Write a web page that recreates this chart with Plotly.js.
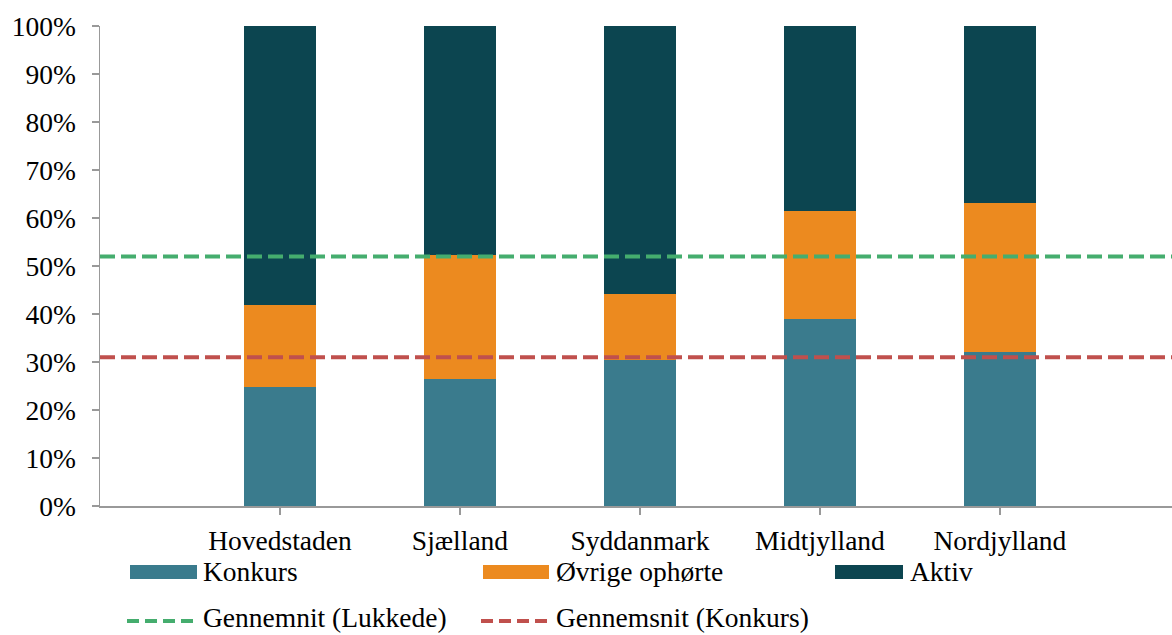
<!DOCTYPE html>
<html><head><meta charset="utf-8">
<script src="https://cdn.plot.ly/plotly-3.0.1.min.js"></script>
<style>html,body{margin:0;padding:0;background:#fff;}#chart{width:1172px;height:635px;}</style>
</head><body><div id="chart"></div>
<script>
const categories = ["Hovedstaden", "Sjælland", "Syddanmark", "Midtjylland", "Nordjylland"];
const konkurs = [24.7, 26.5, 30.4, 38.9, 32.1];
const ovrige = [17.2, 25.8, 13.7, 22.6, 31.0];
const aktiv = [58.1, 47.7, 55.9, 38.5, 36.9];
const gnsLukkede = 52;
const gnsKonkurs = 31;
const seriesNames = ["Konkurs", "Øvrige ophørte", "Aktiv", "Gennemnit (Lukkede)", "Gennemsnit (Konkurs)"];
const colors = ["#3a7b8d", "#ec8a1f", "#0c4550", "#45ad6e", "#c0504d"];

const xPos = categories.map((c, i) => i);
const xRange = [-1, 4.956];
const FONT = "Liberation Serif, Cambria, serif";
const FS = 27.5;

const bar = (y, i) => ({type: "bar", x: xPos, y: y, name: seriesNames[i], width: 0.4,
  marker: {color: colors[i], line: {width: 0}}, showlegend: false, hoverinfo: "y"});
const hline = (v, i) => ({type: "scatter", mode: "lines", x: xRange, y: [v, v], name: seriesNames[i],
  line: {color: colors[i], width: 4, dash: "15px,6px"}, showlegend: false});

const data = [bar(konkurs, 0), bar(ovrige, 1), bar(aktiv, 2), hline(gnsLukkede, 3), hline(gnsKonkurs, 4)];

// manual legend (paper coords relative to plot area)
const W = 1072, H = 480, L = 100, B = 506;
const px = v => (v - L) / W, py = v => (B - v) / H;
const shapes = [], annotations = [];
const sw = [[130, 197, 0, 565, 579], [483, 549, 1, 565, 579], [835, 903, 2, 565, 579]];
sw.forEach(s => shapes.push({type: "rect", xref: "paper", yref: "paper", x0: px(s[0]), x1: px(s[1]), y0: py(s[4]), y1: py(s[3]),
  fillcolor: colors[s[2]], line: {width: 0}}));
const ln = [[127, 197, 3, 621], [481, 550, 4, 621]];
ln.forEach(s => shapes.push({type: "line", xref: "paper", yref: "paper", x0: px(s[0]), x1: px(s[1]), y0: py(s[3]), y1: py(s[3]),
  line: {color: colors[s[2]], width: 4, dash: "12px,6px"}}));
const tx = [[202, 571, 0], [555, 571, 1], [909, 571, 2], [202, 617, 3], [555, 617, 4]];
tx.forEach(t => annotations.push({xref: "paper", yref: "paper", x: px(t[0]), y: py(t[1]), xanchor: "left", yanchor: "middle",
  text: seriesNames[t[2]], showarrow: false, borderpad: 0, font: {family: FONT, size: FS, color: "#000"}}));

const layout = {
  width: 1172, height: 635, barmode: "stack",
  margin: {l: 100, r: 0, t: 26, b: 129},
  paper_bgcolor: "#fff", plot_bgcolor: "#fff",
  font: {family: FONT, size: FS, color: "#000"},
  xaxis: {range: xRange, tickvals: xPos, ticktext: categories, showgrid: false, zeroline: false,
    showline: true, linecolor: "#999", linewidth: 1.5, ticks: "outside", ticklen: 7, tickcolor: "#999", tickwidth: 1.5,
    ticklabelstandoff: 2, tickfont: {family: FONT, size: FS}},
  yaxis: {range: [0, 100], dtick: 10, ticksuffix: "%", showgrid: false, zeroline: false,
    showline: true, linecolor: "#999", linewidth: 1.5, ticks: "outside", ticklen: 7, tickcolor: "#999", tickwidth: 1.5,
    ticklabelstandoff: 10, tickfont: {family: FONT, size: FS}},
  shapes: shapes, annotations: annotations, showlegend: false
};
Plotly.newPlot("chart", data, layout, {displayModeBar: false, staticPlot: true});
</script></body></html>
